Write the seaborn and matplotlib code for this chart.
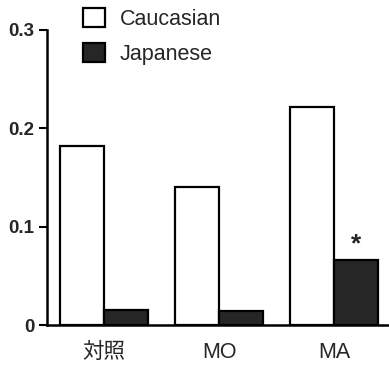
import pandas as pd
import matplotlib
matplotlib.use('Agg')
import matplotlib.pyplot as plt
import seaborn as sns
from matplotlib.patches import Patch

groups = ['対照', 'MO', 'MA']
caucasian = [0.182, 0.140, 0.222]
japanese = [0.015, 0.014, 0.066]
series = ['Caucasian', 'Japanese']
yticks = [0, 0.1, 0.2, 0.3]
ytick_labels = ['0', '0.1', '0.2', '0.3']

df = pd.DataFrame({
    'group': groups * 2,
    'value': caucasian + japanese,
    'race': ['Caucasian'] * 3 + ['Japanese'] * 3,
})

sns.set_style('white')
plt.rcParams['font.family'] = ['Liberation Sans', 'Noto Sans CJK JP']

fig = plt.figure(figsize=(3.89, 3.65), dpi=100)
ax = fig.add_axes([47 / 389, 40 / 365, 342 / 389, 295 / 365])

sns.barplot(data=df, x='group', y='value', hue='race', order=groups,
            hue_order=series, palette=['white', '#262626'], width=0.77,
            edgecolor='black', linewidth=1.6, ax=ax, legend=False)

# significance mark on MA / Japanese
ax.text(2.19, japanese[2] + 0.004, '*', ha='center', va='bottom',
        fontsize=19, fontweight='bold')

ax.set_xlim(-0.496, 2.478)
ax.set_ylim(0, 0.3)
ax.set_yticks(yticks)
ax.set_yticklabels(ytick_labels, fontsize=13.5, fontweight='bold')
ax.tick_params(axis='y', left=True, direction='out', length=6, width=1.5,
               pad=3, color='black')
ax.tick_params(axis='x', length=0, labelsize=15.5, pad=12)
ax.set_xlabel('')
ax.set_ylabel('')
for side in ['top', 'right']:
    ax.spines[side].set_visible(False)
for side in ['left', 'bottom']:
    ax.spines[side].set_linewidth(1.8)
    ax.spines[side].set_color('black')

handles = [Patch(facecolor='white', edgecolor='black', linewidth=1.6),
           Patch(facecolor='#262626', edgecolor='black', linewidth=1.6)]
fig.legend(handles, series, loc='upper left', bbox_to_anchor=(68 / 389, 1 + 7 / 365),
           bbox_transform=fig.transFigure, frameon=False, fontsize=15.5,
           handlelength=1.0, handleheight=1.0, handletextpad=0.7,
           labelspacing=0.6, borderpad=0.2)

fig.savefig('out.png', dpi=100)
